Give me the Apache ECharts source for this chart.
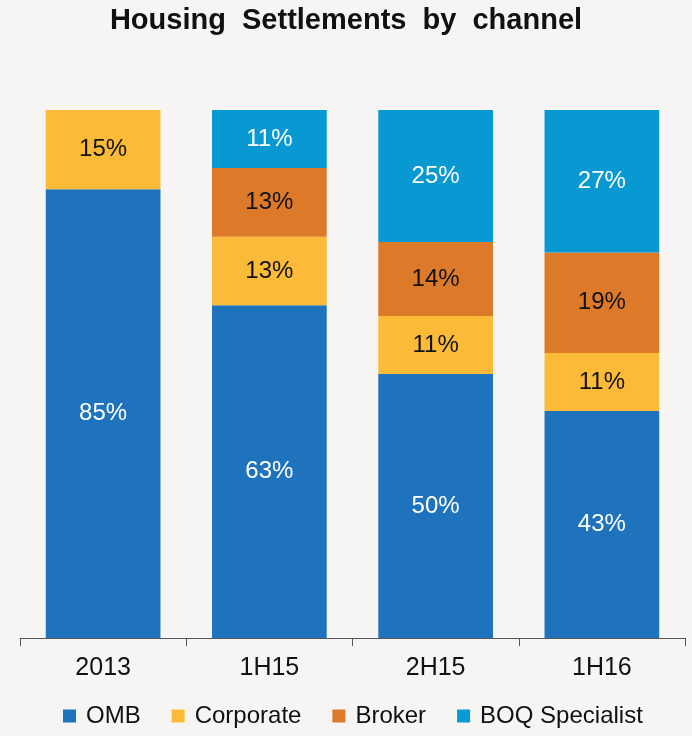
<!DOCTYPE html>
<html>
<head>
<meta charset="utf-8">
<script src="https://cdn.jsdelivr.net/npm/echarts@6/dist/echarts.min.js"></script>
<style>
  html, body { margin: 0; padding: 0; background: #f6f5f3; }
  #chart { width: 692px; height: 736px; }
</style>
</head>
<body>
<div id="chart"></div>
<script>
const categories = ["2013", "1H15", "2H15", "1H16"];
const omb = [85, 63, 50, 43];
const corporate = [15, 13, 11, 11];
const broker = [null, 13, 14, 19];
const boqSpecialist = [null, 11, 25, 27];

const chart = echarts.init(document.getElementById("chart"));

function makeSeries(name, data, color, labelColor) {
  return {
    name: name,
    type: "bar",
    stack: "total",
    barWidth: "69%",
    data: data,
    itemStyle: { color: color },
    label: {
      show: true,
      position: "inside",
      formatter: (p) => p.value + "%",
      color: labelColor,
      fontSize: 24,
      fontFamily: "Liberation Sans",
    },
  };
}

chart.setOption({
  backgroundColor: "#f6f5f3",
  title: {
    text: "Housing  Settlements  by  channel",
    left: "center",
    top: 1,
    textStyle: {
      fontSize: 29,
      fontWeight: "bold",
      color: "#111",
      fontFamily: "Liberation Sans",
    },
  },
  legend: {
    bottom: 3,
    left: 58,
    itemWidth: 13,
    itemHeight: 13,
    itemGap: 31,
    icon: "rect",
    textStyle: {
      fontSize: 24,
      color: "#111",
      fontFamily: "Liberation Sans",
      padding: [0, 0, 0, 5],
    },
    data: ["OMB", "Corporate", "Broker", "BOQ Specialist"],
  },
  grid: { left: 20, right: 7, top: 110, bottom: 98 },
  xAxis: {
    type: "category",
    data: categories,
    axisLine: { lineStyle: { color: "#555", width: 1 } },
    axisTick: { show: true, length: 8, lineStyle: { color: "#555" } },
    axisLabel: {
      fontSize: 25,
      color: "#111",
      margin: 18,
      fontFamily: "Liberation Sans",
    },
  },
  yAxis: {
    type: "value",
    min: 0,
    max: 100,
    show: false,
    splitLine: { show: false },
  },
  series: [
    makeSeries("OMB", omb, "#1f73bc", "#fff"),
    makeSeries("Corporate", corporate, "#fbba38", "#111"),
    makeSeries("Broker", broker, "#dc7a2a", "#111"),
    makeSeries("BOQ Specialist", boqSpecialist, "#0899d3", "#fff"),
  ],
});
</script>
</body>
</html>
